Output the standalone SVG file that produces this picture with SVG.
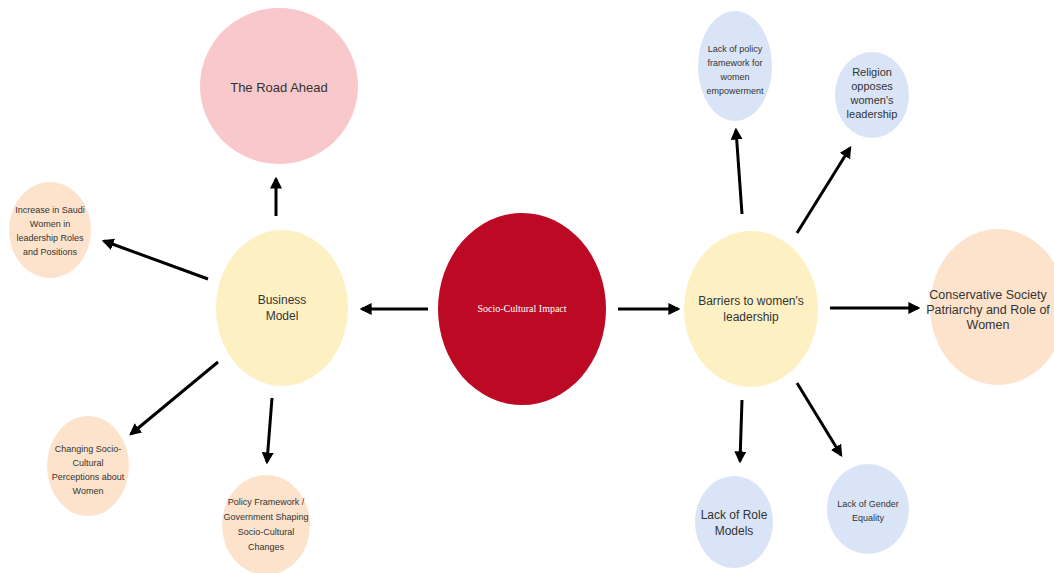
<svg xmlns="http://www.w3.org/2000/svg" width="1054" height="573" viewBox="0 0 1054 573">
<defs>
<marker id="ah" viewBox="0 0 10 10" refX="8" refY="5" markerWidth="4" markerHeight="4" orient="auto" markerUnits="strokeWidth">
<path d="M0,0 L10,5 L0,10 z" fill="#000"/>
</marker>
<style>
.pink{fill:#f8c8ca}
.orange{fill:#fde3cb}
.yellow{fill:#fdf1c3}
.blue{fill:#d9e5f7}
.red{fill:#bd0a24}
.t{font-family:"Liberation Sans Narrow","Liberation Sans",Arial,sans-serif;fill:#333;text-anchor:middle}
.s{font-size:9px}
.m{font-size:12px}
.c line{stroke:#000;stroke-width:3;marker-end:url(#ah)}
</style>
</defs>
<rect width="1054" height="573" fill="#fff"/>
<g id="connectors" class="c">
<line x1="276" y1="216" x2="276" y2="179"/>
<line x1="208" y1="279" x2="104" y2="241"/>
<line x1="218" y1="362" x2="131" y2="434"/>
<line x1="272" y1="398" x2="267" y2="462"/>
<line x1="428" y1="309" x2="362" y2="309"/>
<line x1="618" y1="309" x2="678" y2="309"/>
<line x1="742" y1="214" x2="736" y2="130"/>
<line x1="797" y1="233" x2="850" y2="148"/>
<line x1="830" y1="308" x2="918" y2="308"/>
<line x1="742" y1="400" x2="740" y2="461"/>
<line x1="797" y1="383" x2="841" y2="455"/>
</g>
<g id="road-ahead">
<ellipse class="pink" cx="279" cy="86" rx="79" ry="78"/>
<text class="t" x="279" y="92" font-size="13">The Road Ahead</text>
</g>
<g id="increase">
<ellipse class="orange" cx="50" cy="230" rx="41" ry="48"/>
<text class="t s" x="50" y="213">Increase in Saudi</text>
<text class="t s" x="50" y="227">Women in</text>
<text class="t s" x="50" y="241">leadership Roles</text>
<text class="t s" x="50" y="255">and Positions</text>
</g>
<g id="business-model">
<ellipse class="yellow" cx="282" cy="308" rx="66" ry="78"/>
<text class="t m" x="282" y="304">Business</text>
<text class="t m" x="282" y="320">Model</text>
</g>
<g id="changing">
<ellipse class="orange" cx="88" cy="466" rx="41" ry="50"/>
<text class="t s" x="88" y="452">Changing Socio-</text>
<text class="t s" x="88" y="466">Cultural</text>
<text class="t s" x="88" y="480">Perceptions about</text>
<text class="t s" x="88" y="494">Women</text>
</g>
<g id="policy-framework">
<ellipse class="orange" cx="266" cy="525" rx="44" ry="50"/>
<text class="t s" x="266" y="505">Policy Framework /</text>
<text class="t s" x="266" y="520">Government Shaping</text>
<text class="t s" x="266" y="535">Socio-Cultural</text>
<text class="t s" x="266" y="550">Changes</text>
</g>
<g id="socio-cultural-impact">
<ellipse class="red" cx="522" cy="309" rx="84" ry="96"/>
<text x="522" y="312" font-family="Liberation Serif,serif" font-size="10" fill="#fff" text-anchor="middle">Socio-Cultural Impact</text>
</g>
<g id="barriers">
<ellipse class="yellow" cx="751" cy="309" rx="67" ry="78"/>
<text class="t m" x="751" y="305">Barriers to women's</text>
<text class="t m" x="751" y="321">leadership</text>
</g>
<g id="lack-policy">
<ellipse class="blue" cx="735" cy="66" rx="37" ry="55"/>
<text class="t s" x="735" y="52">Lack of policy</text>
<text class="t s" x="735" y="66">framework for</text>
<text class="t s" x="735" y="80">women</text>
<text class="t s" x="735" y="94">empowerment</text>
</g>
<g id="religion">
<ellipse class="blue" cx="872" cy="95" rx="37" ry="43"/>
<text class="t" x="872" y="76" font-size="11">Religion</text>
<text class="t" x="872" y="90" font-size="11">opposes</text>
<text class="t" x="872" y="104" font-size="11">women's</text>
<text class="t" x="872" y="118" font-size="11">leadership</text>
</g>
<g id="conservative">
<ellipse class="orange" cx="998" cy="307" rx="68" ry="78"/>
<text class="t" x="988" y="299" font-size="12.5">Conservative Society</text>
<text class="t" x="988" y="314" font-size="12.5">Patriarchy and Role of</text>
<text class="t" x="988" y="329" font-size="12.5">Women</text>
</g>
<g id="role-models">
<ellipse class="blue" cx="734" cy="522" rx="39" ry="46"/>
<text class="t m" x="734" y="519">Lack of Role</text>
<text class="t m" x="734" y="535">Models</text>
</g>
<g id="gender-equality">
<ellipse class="blue" cx="868" cy="509" rx="41" ry="45"/>
<text class="t s" x="868" y="507">Lack of Gender</text>
<text class="t s" x="868" y="521">Equality</text>
</g>
</svg>
